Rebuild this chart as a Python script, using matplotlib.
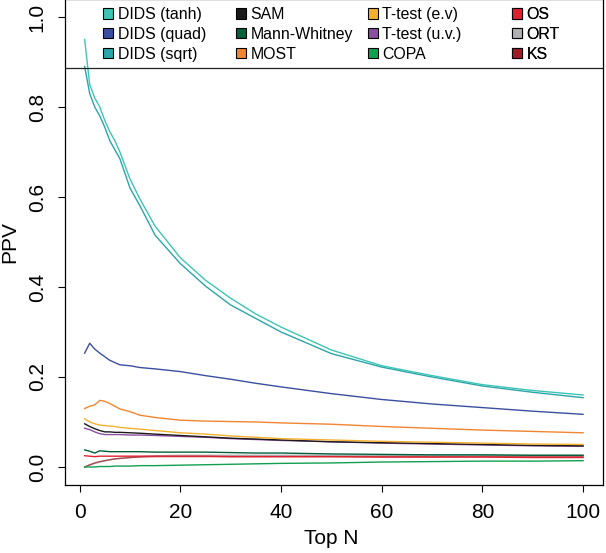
import matplotlib
matplotlib.use("Agg")
import matplotlib.pyplot as plt
from matplotlib.patches import Patch

plt.rcParams['font.family'] = ['Liberation Sans', 'DejaVu Sans']

# Top N positions
top_n = [1, 2, 3, 4, 5, 6, 7, 8, 10, 12, 15, 20, 25, 30, 35, 40, 50, 60, 70, 80, 90, 100]

dids_tanh = [0.95, 0.85, 0.82, 0.80, 0.77, 0.745, 0.725, 0.70, 0.64, 0.595, 0.535, 0.465,
             0.415, 0.375, 0.34, 0.311, 0.26, 0.225, 0.203, 0.183, 0.17, 0.16]
dids_quad = [0.253, 0.275, 0.262, 0.253, 0.245, 0.237, 0.232, 0.227, 0.225, 0.221, 0.218, 0.212,
             0.203, 0.195, 0.186, 0.178, 0.163, 0.15, 0.14, 0.132, 0.124, 0.117]
dids_sqrt = [0.89, 0.83, 0.80, 0.78, 0.755, 0.725, 0.705, 0.685, 0.62, 0.58, 0.515, 0.452,
             0.402, 0.36, 0.33, 0.30, 0.252, 0.222, 0.20, 0.18, 0.166, 0.154]
sam = [0.096, 0.09, 0.085, 0.081, 0.078, 0.078, 0.077, 0.077, 0.076, 0.075, 0.073, 0.070,
       0.067, 0.064, 0.062, 0.060, 0.056, 0.054, 0.052, 0.050, 0.048, 0.047]
mann_whitney = [0.038, 0.035, 0.031, 0.036, 0.035, 0.034, 0.034, 0.034, 0.034, 0.034, 0.033, 0.033,
                0.033, 0.032, 0.031, 0.031, 0.029, 0.028, 0.027, 0.027, 0.026, 0.026]
most = [0.130, 0.135, 0.138, 0.148, 0.146, 0.141, 0.135, 0.129, 0.123, 0.115, 0.110, 0.104,
        0.102, 0.101, 0.100, 0.098, 0.095, 0.090, 0.086, 0.082, 0.079, 0.076]
ttest_ev = [0.107, 0.100, 0.096, 0.093, 0.092, 0.091, 0.090, 0.088, 0.086, 0.084, 0.081, 0.076,
            0.073, 0.069, 0.066, 0.063, 0.060, 0.057, 0.055, 0.053, 0.051, 0.050]
ttest_uv = [0.086, 0.083, 0.078, 0.074, 0.072, 0.072, 0.072, 0.072, 0.071, 0.071, 0.070, 0.068,
            0.066, 0.063, 0.061, 0.059, 0.056, 0.053, 0.051, 0.049, 0.047, 0.046]
copa = [0.0, 0.0, 0.0, 0.001, 0.001, 0.001, 0.002, 0.002, 0.002, 0.003, 0.003, 0.004,
        0.005, 0.006, 0.007, 0.008, 0.009, 0.011, 0.012, 0.013, 0.013, 0.014]
os_ = [0.025, 0.024, 0.023, 0.024, 0.024, 0.024, 0.024, 0.024, 0.024, 0.024, 0.024, 0.024,
       0.024, 0.023, 0.023, 0.023, 0.023, 0.022, 0.022, 0.022, 0.021, 0.021]
ort = [0.0, 0.004, 0.008, 0.011, 0.014, 0.016, 0.018, 0.019, 0.021, 0.023, 0.025, 0.026,
       0.026, 0.026, 0.026, 0.026, 0.026, 0.026, 0.026, 0.026, 0.026, 0.026]
ks = [0.0, 0.005, 0.009, 0.012, 0.014, 0.016, 0.018, 0.019, 0.021, 0.022, 0.023, 0.023,
      0.023, 0.023, 0.023, 0.023, 0.023, 0.023, 0.023, 0.023, 0.023, 0.023]

methods = ['DIDS (tanh)', 'DIDS (quad)', 'DIDS (sqrt)', 'SAM', 'Mann-Whitney', 'MOST',
           'T-test (e.v)', 'T-test (u.v.)', 'COPA', 'OS', 'ORT', 'KS']
series = [dids_tanh, dids_quad, dids_sqrt, sam, mann_whitney, most,
          ttest_ev, ttest_uv, copa, os_, ort, ks]
colors = ['#3ec4b4', '#3a4fa0', '#2aa5aa', '#1a1a1a', '#00603a', '#f28530',
          '#f5b030', '#8a4fa0', '#10a050', '#e0202e', '#b0b0b4', '#a01c22']

fig = plt.figure(figsize=(6.06, 5.53), dpi=100)
ax = fig.add_axes([0.1068, 0.1230, 0.8883, 0.8788])

# draw bottom group first so the DIDS curves sit on top
order = [10, 11, 9, 8, 4, 7, 3, 6, 5, 1, 2, 0]
for i in order:
    ax.plot(top_n, series[i], color=colors[i], lw=1.0, alpha=0.7 if i == 11 else 1.0)

ax.set_xlim(-2.96, 103.96)
ax.set_ylim(-0.04, 1.04)
ax.set_xticks([0, 20, 40, 60, 80, 100])
ax.set_yticks([0.0, 0.2, 0.4, 0.6, 0.8, 1.0])
ax.set_yticklabels(['0.0', '0.2', '0.4', '0.6', '0.8', '1.0'], rotation=90, va='center')
ax.tick_params(direction='out', length=5, width=0.8, labelsize=15, pad=8)
for s in ax.spines.values():
    s.set_linewidth(0.9)

ax.set_xlabel('Top N', fontsize=15, va='center')
ax.set_ylabel('PPV', fontsize=15, va='center')
ax.xaxis.set_label_coords(0.495, -0.111)
ax.yaxis.set_label_coords(-0.1016, 0.5)

# legend box across the top
ax.axhline(0.887, color='#222222', lw=0.9)
col_x = [0.0717, 0.318, 0.563, 0.831]
for c in range(4):
    handles = [Patch(facecolor=colors[k], edgecolor='black', linewidth=0.8)
               for k in range(c * 3, c * 3 + 3)]
    leg = ax.legend(handles, methods[c * 3:c * 3 + 3], loc='upper left',
                    bbox_to_anchor=(col_x[c], 0.9835), frameon=False,
                    fontsize=11.4, handlelength=0.62, handleheight=0.62,
                    handletextpad=0.3, labelspacing=0.3, borderpad=0,
                    borderaxespad=0)
    ax.add_artist(leg)

fig.savefig('out.png', dpi=100)
